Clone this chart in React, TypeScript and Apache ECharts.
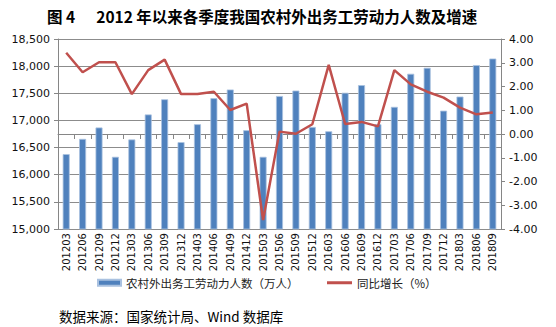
import React, { useEffect, useRef } from "react";
import * as echarts from "echarts";

const categories = [
  "201203", "201206", "201209", "201212",
  "201303", "201306", "201309", "201312",
  "201403", "201406", "201409", "201412",
  "201503", "201506", "201509", "201512",
  "201603", "201606", "201609", "201612",
  "201703", "201706", "201709", "201712",
  "201803", "201806", "201809",
];

const workers = [
  16380, 16660, 16870, 16330,
  16650, 17110, 17390, 16600,
  16930, 17410, 17570, 16820,
  16330, 17450, 17550, 16880,
  16800, 17510, 17650, 16930,
  17250, 17860, 17970, 17180,
  17440, 18020, 18140,
];

const growth = [
  3.42, 2.6, 3.02, 3.02,
  1.68, 2.69, 3.13, 1.68,
  1.68, 1.78, 1.01, 1.28,
  -3.62, 0.1, 0.01, 0.41,
  2.91, 0.42, 0.51, 0.32,
  2.69, 2.09, 1.78, 1.53,
  1.11, 0.83, 0.91,
];

const barName = "农村外出务工劳动力人数（万人）";
const lineName = "同比增长（%）";
const titleText = "图 4      2012 年以来各季度我国农村外出务工劳动力人数及增速";
const sourceText = "数据来源：国家统计局、Wind 数据库";

export default function App() {
  const ref = useRef<HTMLDivElement>(null);
  useEffect(() => {
    document.body.style.margin = "0";
    if (!ref.current) return;
    const chart = echarts.init(ref.current, null, { renderer: "svg" });
    const axisFont = "DejaVu Sans, Verdana, sans-serif";
    const cjk = "'Noto Sans CJK SC', sans-serif";
    chart.setOption({
      animation: false,
      backgroundColor: "#ffffff",
      title: {
        text: titleText,
        left: 42,
        top: 3,
        textStyle: { fontFamily: cjk, fontSize: 15.5, fontWeight: "bold", color: "#000" },
      },
      grid: { left: 58, right: 55, top: 39, bottom: 98, containLabel: false },
      legend: [
        {
          data: [{ name: barName, icon: "rect" }],
          left: 92,
          top: 272,
          itemWidth: 23,
          itemHeight: 6,
          textStyle: { fontFamily: cjk, fontSize: 11.5, color: "#222" },
        },
        {
          data: [{ name: lineName, icon: "rect" }],
          left: 322,
          top: 272,
          itemWidth: 25,
          itemHeight: 3,
          textStyle: { fontFamily: cjk, fontSize: 11.5, color: "#222" },
        },
      ],
      xAxis: {
        type: "category",
        data: categories,
        boundaryGap: true,
        axisLine: { lineStyle: { color: "#868686", width: 1 } },
        axisTick: { show: true, alignWithLabel: false, length: 5, lineStyle: { color: "#868686" } },
        axisLabel: {
          interval: 0,
          rotate: 90,
          fontFamily: axisFont,
          fontSize: 10,
          color: "#111",
          margin: 4,
        },
      },
      yAxis: [
        {
          type: "value",
          min: 15000,
          max: 18500,
          interval: 500,
          position: "left",
          axisLine: { show: true, lineStyle: { color: "#868686" } },
          axisTick: { show: true, length: 4, lineStyle: { color: "#868686" } },
          splitLine: { show: true, lineStyle: { color: "#8c8c8c", width: 1 } },
          axisLabel: {
            fontFamily: axisFont,
            fontSize: 11,
            color: "#111",
            margin: 8,
            formatter: (v: number) => v.toLocaleString("en-US"),
          },
        },
        {
          type: "value",
          min: -4,
          max: 4,
          interval: 1,
          position: "right",
          axisLine: { show: true, lineStyle: { color: "#868686" } },
          axisTick: { show: true, length: 4, lineStyle: { color: "#868686" } },
          splitLine: { show: false },
          axisLabel: {
            fontFamily: axisFont,
            fontSize: 11,
            color: "#111",
            margin: 8,
            formatter: (v: number) => v.toFixed(2),
          },
        },
      ],
      series: [
        {
          name: barName,
          type: "bar",
          yAxisIndex: 0,
          data: workers,
          barWidth: 7,
          itemStyle: { color: "#4F81BD", borderColor: "#A9C1E0", borderWidth: 0.8 },
        },
        {
          name: lineName,
          type: "line",
          yAxisIndex: 1,
          data: growth,
          symbol: "none",
          lineStyle: { color: "#C0504D", width: 2.5 },
          itemStyle: { color: "#C0504D" },
        },
      ],
      graphic: [
        {
          type: "text",
          left: 59,
          top: 309,
          style: {
            text: sourceText,
            fontFamily: cjk,
            fontSize: 13.5,
            fill: "#000",
          },
        },
      ],
    });
    return () => chart.dispose();
  }, []);
  return <div ref={ref} style={{ width: 556, height: 327 }} />;
}
